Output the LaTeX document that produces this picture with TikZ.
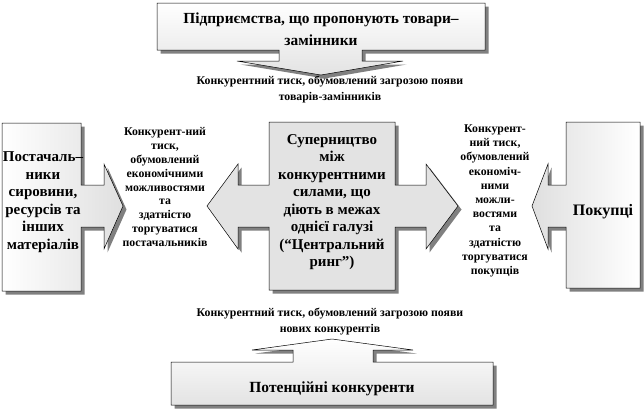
\documentclass[tikz,border=0pt]{standalone}
\usepackage{fontspec}
\setmainfont{Liberation Serif}
\usetikzlibrary{shadows}
\definecolor{shadowgray}{RGB}{128,128,128}
\tikzset{
  callout/.style={draw=black, line width=0.5pt,
    drop shadow={opacity=1, fill=shadowgray, shadow xshift=3.5pt, shadow yshift=-3.5pt}},
  boxtext/.style={font=\bfseries\fontsize{15}{17.5}\selectfont, align=center, inner sep=0pt},
  presstext/.style={font=\bfseries\fontsize{11.8}{13.8}\selectfont, align=center, inner sep=0pt},
}
\begin{document}
\begin{tikzpicture}[x=1pt, y=-1pt]
  \useasboundingbox (0,0) rectangle (644,416);
  % substitutes
  \draw[callout, top color=white, bottom color=gray!22] (157,3) -- (485,3) -- (485,50) -- (362,50) -- (362,61) -- (403,61)
    -- (321,75) -- (237,61) -- (279,61) -- (279,50) -- (157,50) -- cycle;
  % new entrants
  \draw[callout, top color=white, bottom color=gray!22] (171,405) -- (493,405) -- (493,362) -- (373,362) -- (373,350) -- (413,350)
    -- (332,339) -- (252,350) -- (293,350) -- (293,362) -- (171,362) -- cycle;
  % suppliers
  \draw[callout, left color=white, right color=gray!25] (2,123) -- (81,123) -- (81,185) -- (104,185) -- (104,164)
    -- (123,206) -- (104,249) -- (104,227) -- (81,227) -- (81,291) -- (2,291) -- cycle;
  % buyers
  \draw[callout, left color=gray!25, right color=white] (640,122) -- (566,122) -- (566,185) -- (548,185) -- (548,164)
    -- (532,206) -- (548,249) -- (548,227) -- (566,227) -- (566,288) -- (640,288) -- cycle;
  % rivalry
  \draw[callout, left color=gray!22, middle color=white, right color=gray!22] (269,122) -- (395,122) -- (395,185) -- (426,185)
    -- (426,164) -- (458,206) -- (426,249) -- (426,227) -- (395,227) -- (395,290) -- (269,290) -- (269,227)
    -- (238,227) -- (238,249) -- (207,206) -- (238,164) -- (238,185) -- (269,185) -- cycle;

  \node[boxtext, font=\bfseries\fontsize{15.4}{22}\selectfont] (subst) at (321,29) {Підприємства, що пропонують товари–\\замінники};
  \node[presstext, font=\bfseries\fontsize{11.8}{16}\selectfont] (psubst) at (330,90) {Конкурентний тиск, обумовлений загрозою появи\\товарів-замінників};
  \node[boxtext] (supl) at (43,202) {Постачаль–\\ники\\сировини,\\ресурсів та\\інших\\матеріалів};
  \node[presstext] (psupl) at (165,187) {Конкурент-ний\\тиск,\\обумовлений\\економічними\\можливостями\\та\\здатністю\\торгуватися\\постачальників};
  \node[boxtext] (rival) at (332,202) {Суперництво\\між\\конкурентними\\силами, що\\діють в межах\\однієї галузі\\(“Центральний\\ринг”)};
  \node[presstext, font=\bfseries\fontsize{11.8}{14.2}\selectfont] (pbuyer) at (495,201) {Конкурент-\\ний тиск,\\обумовлений\\економіч-\\ними\\можли-\\востями\\та\\здатністю\\торгуватися\\покупців};
  \node[boxtext, font=\bfseries\fontsize{16}{19}\selectfont] (buyer) at (603,212) {Покупці};
  \node[presstext, font=\bfseries\fontsize{11.8}{16}\selectfont] (pentr) at (330,322) {Конкурентний тиск, обумовлений загрозою появи\\нових конкурентів};
  \node[boxtext, font=\bfseries\fontsize{15.5}{19}\selectfont] (entr) at (332,389) {Потенційні конкуренти};
\end{tikzpicture}
\end{document}
